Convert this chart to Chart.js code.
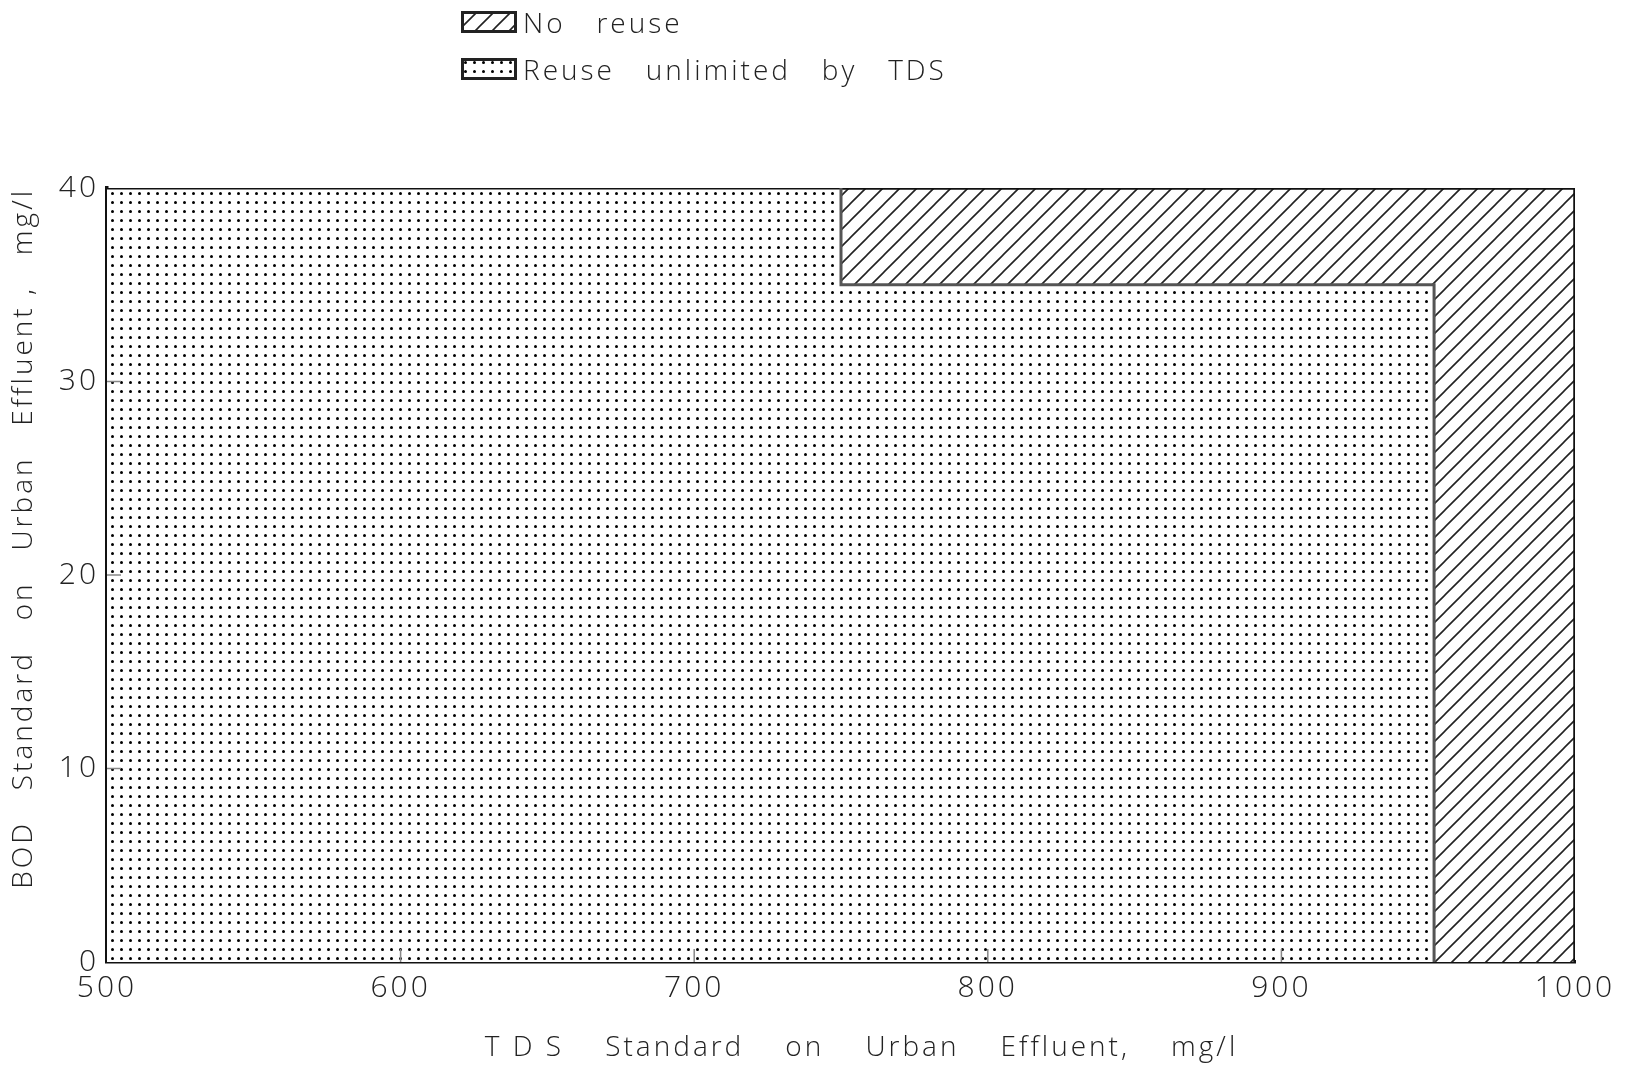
<!DOCTYPE html>
<html>
<head>
<meta charset="utf-8">
<script src="https://cdn.jsdelivr.net/npm/chart.js@4.4.0/dist/chart.umd.min.js"></script>
<style>
body { margin: 0; background: #fff; }
#wrap { position: relative; width: 1625px; height: 1070px; }
#legend { position: absolute; left: 461px; top: -2px; font-family: 'Open Sans', sans-serif; font-weight: 300;
          font-size: 28px; letter-spacing: 3px; color: #222; white-space: pre; }
#legend div { display: flex; align-items: center; height: 47px; }
#legend canvas { margin-right: 6px; }
</style>
</head>
<body>
<div id="wrap">
  <canvas id="tdsChart" width="1625" height="1070"></canvas>
  <div id="legend"></div>
</div>
<script>
// outline of each region, TDS (x) and BOD (y)
var tdsNoReuse = [750, 1000, 1000];
var bodNoReuse = [40, 40, 0];
var tdsReuse = [500, 750, 750, 952, 952];
var bodReuse = [40, 40, 35, 35, 0];
var xTicks = [500, 600, 700, 800, 900, 1000];
var yTicks = [0, 10, 20, 30, 40];
var seriesNames = ['No   reuse', 'Reuse   unlimited   by   TDS'];

var ctx = document.getElementById('tdsChart').getContext('2d');
var font = "'Open Sans', sans-serif";

makeHatch = function(){
    var c = document.createElement('canvas');
    c.width = 17; c.height = 17;
    var g = c.getContext('2d');
    g.fillStyle = '#fff';
    g.fillRect(0, 0, 17, 17);
    g.strokeStyle = '#222';
    g.lineWidth = 1.6;
    g.beginPath();
    g.moveTo(0, 17); g.lineTo(17, 0);
    g.moveTo(-2, 2); g.lineTo(2, -2);
    g.moveTo(15, 19); g.lineTo(19, 15);
    g.stroke();
    return c;
}

makeDots = function(){
    var c = document.createElement('canvas');
    c.width = 9; c.height = 9;
    var g = c.getContext('2d');
    g.fillStyle = '#fff';
    g.fillRect(0, 0, 9, 9);
    g.fillStyle = '#000';
    g.beginPath();
    g.arc(4.5, 4.5, 1.5, 0, Math.PI * 2);
    g.fill();
    return c;
}

var hatchTile = makeHatch();
var dotTile = makeDots();
var hatch = ctx.createPattern(hatchTile, 'repeat');
var dots = ctx.createPattern(dotTile, 'repeat');

toPoints = function(xs, ys){
    return xs.map(function(x, i){ return {x: x, y: ys[i]}; });
}

// small tick marks drawn inward from the axes
var innerTicks = {
    id: 'innerTicks',
    afterDatasetsDraw: function(chart){
        var c = chart.ctx, a = chart.chartArea;
        c.save();
        c.strokeStyle = '#888';
        c.lineWidth = 1.5;
        c.beginPath();
        yTicks.slice(1, -1).forEach(function(v){
            var p = chart.scales.y.getPixelForValue(v);
            c.moveTo(a.left, p); c.lineTo(a.left + 14, p);
        });
        xTicks.slice(1, -1).forEach(function(v){
            var p = chart.scales.x.getPixelForValue(v);
            c.moveTo(p, a.bottom); c.lineTo(p, a.bottom - 13);
        });
        c.stroke();
        c.restore();
    }
};

var spacing = {
    id: 'spacing',
    beforeUpdate: function(chart){ chart.ctx.letterSpacing = '3px'; },
    beforeDraw: function(chart){ chart.ctx.letterSpacing = '3px'; }
};

var chart = new Chart(ctx, {
    type: 'line',
    data: {
        datasets: [{
            label: seriesNames[0],
            data: toPoints(tdsNoReuse, bodNoReuse),
            backgroundColor: hatch,
            borderColor: '#111',
            borderWidth: 3.5,
            fill: 'origin',
            pointRadius: 0,
            order: 2
        }, {
            label: seriesNames[1],
            data: toPoints(tdsReuse, bodReuse),
            backgroundColor: dots,
            borderColor: '#555',
            borderWidth: 3,
            segment: {
                borderColor: function(c){ return c.p0DataIndex === 0 ? '#111' : '#555'; }
            },
            fill: 'origin',
            pointRadius: 0,
            order: 1
        }]
    },
    options: {
        responsive: false,
        animation: false,
        layout: { padding: { top: 188, right: 50, left: 0, bottom: 0 } },
        plugins: {
            legend: { display: false },
            tooltip: { enabled: false }
        },
        scales: {
            x: {
                type: 'linear',
                min: 500,
                max: 1000,
                afterBuildTicks: function(s){ s.ticks = xTicks.map(function(v){ return {value: v}; }); },
                afterFit: function(s){ s.height = 108; },
                grid: { drawOnChartArea: false, drawTicks: false },
                border: { display: true, color: '#111', width: 3.5 },
                ticks: {
                    padding: 8, color: '#222',
                    font: { family: font, size: 30, weight: '300' },
                    callback: function(v){ return String(v); }
                },
                title: {
                    display: true,
                    text: '    T D S    Standard    on    Urban    Effluent,    mg/l',
                    color: '#222',
                    padding: { top: 0, bottom: 5 },
                    font: { family: font, size: 28, weight: '300' }
                }
            },
            y: {
                min: 0,
                max: 40,
                afterBuildTicks: function(s){ s.ticks = yTicks.map(function(v){ return {value: v}; }); },
                afterFit: function(s){ s.width = 107; },
                grid: { drawOnChartArea: false, drawTicks: false },
                border: { display: true, color: '#111', width: 3.5 },
                ticks: { padding: 8, color: '#222', font: { family: font, size: 30, weight: '300' } },
                title: {
                    display: true,
                    align: 'end',
                    text: 'BOD   Standard   on   Urban   Effluent ,   mg/l',
                    color: '#222',
                    padding: { top: 7, bottom: 0 },
                    font: { family: font, size: 28, weight: '300' }
                }
            }
        }
    },
    plugins: [innerTicks, spacing]
});

// legend built from the datasets, swatches use the same fills
var legend = document.getElementById('legend');
[chart.data.datasets[0], chart.data.datasets[1]].forEach(function(ds, i){
    var row = document.createElement('div');
    var sw = document.createElement('canvas');
    sw.width = 56; sw.height = 22;
    var g = sw.getContext('2d');
    g.fillStyle = g.createPattern(i === 0 ? hatchTile : dotTile, 'repeat');
    g.fillRect(0, 0, 56, 22);
    g.strokeStyle = '#222';
    g.lineWidth = 3;
    g.strokeRect(1.5, 1.5, 53, 19);
    row.appendChild(sw);
    row.appendChild(document.createTextNode(ds.label));
    legend.appendChild(row);
});
</script>
</body>
</html>
